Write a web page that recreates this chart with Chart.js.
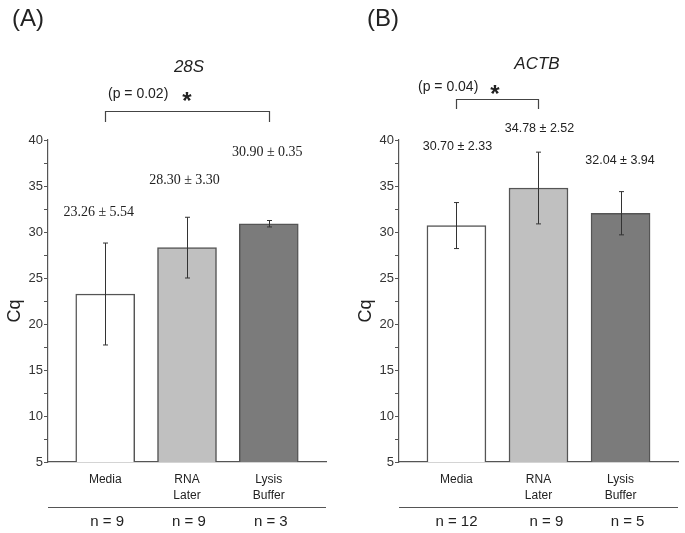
<!DOCTYPE html>
<html>
<head>
<meta charset="utf-8">
<script src="https://cdn.jsdelivr.net/npm/chart.js@4.4.0/dist/chart.umd.min.js"></script>
<style>
  html, body { margin: 0; padding: 0; background: #fff; }
  #wrap { position: relative; width: 685px; height: 533px; }
  canvas { position: absolute; top: 0; }
</style>
</head>
<body>
<div id="wrap">
  <canvas id="cA" width="342" height="533" style="left:0"></canvas>
  <canvas id="cB" width="343" height="533" style="left:342px"></canvas>
</div>
<script>
// Data
const groups = ['Media', 'RNA Later', 'Lysis Buffer'];
const tickLabels = [['Media'], ['RNA', 'Later'], ['Lysis', 'Buffer']];
const barColors = ['#ffffff', '#c0c0c0', '#7b7b7b'];

const cq28S = [23.26, 28.30, 30.90];
const err28S = [5.54, 3.30, 0.35];
const text28S = ['23.26 \u00b1 5.54', '28.30 \u00b1 3.30', '30.90 \u00b1 0.35'];
const n28S = [9, 9, 3];

const cqACTB = [30.70, 34.78, 32.04];
const errACTB = [2.5, 3.9, 2.35];   // error bar lengths as drawn
const textACTB = ['30.70 \u00b1 2.33', '34.78 \u00b1 2.52', '32.04 \u00b1 3.94'];
const nACTB = [12, 9, 5];

const yMin = 5, yMax = 40, yStep = 2.5;

const SANS = '"Liberation Sans", Arial, sans-serif';
const SERIF = '"Liberation Serif", "Times New Roman", serif';
const AXIS = '#555';
const INK = '#222';

// draws error bars, bracket and all the text around one panel
const panelDecor = {
    id: 'panelDecor',
    afterDatasetsDraw(chart, args, o) {
        const ctx = chart.ctx;
        const xs = chart.scales.x, ys = chart.scales.y;
        ctx.save();
        ctx.strokeStyle = '#333';
        ctx.lineWidth = 1;
        o.values.forEach((v, i) => {
            const x = Math.round(xs.getPixelForValue(i + 1)) + 0.5;
            const t = ys.getPixelForValue(v + o.errors[i]);
            const b = ys.getPixelForValue(v - o.errors[i]);
            ctx.beginPath();
            ctx.moveTo(x, t); ctx.lineTo(x, b);
            ctx.moveTo(x - 2.5, t); ctx.lineTo(x + 2.5, t);
            ctx.moveTo(x - 2.5, b); ctx.lineTo(x + 2.5, b);
            ctx.stroke();
        });
        ctx.restore();
    },
    afterDraw(chart, args, o) {
        const ctx = chart.ctx;
        const xs = chart.scales.x;
        const area = chart.chartArea;
        ctx.save();
        ctx.fillStyle = INK;
        ctx.textBaseline = 'middle';

        // panel letter
        ctx.font = '24px ' + SANS;
        ctx.textAlign = 'left';
        ctx.fillText(o.letter, o.letterX, 19);

        // gene name
        ctx.font = 'italic 17px ' + SANS;
        ctx.textAlign = 'center';
        ctx.fillText(o.gene, o.geneX, o.geneY);

        // p value + star
        ctx.font = '14px ' + SANS;
        ctx.textAlign = 'left';
        ctx.fillText(o.pText, o.pX, o.pY);
        ctx.font = 'bold 24px ' + SANS;
        ctx.textAlign = 'center';
        ctx.textBaseline = 'alphabetic';
        ctx.fillText('*', o.starX, o.pY + 15);
        ctx.textBaseline = 'middle';

        // bracket
        const bx1 = Math.round(xs.getPixelForValue(o.bracket[0])) + 0.5;
        const bx2 = Math.round(xs.getPixelForValue(o.bracket[1])) + 0.5;
        ctx.strokeStyle = '#444';
        ctx.lineWidth = 1.2;
        ctx.beginPath();
        ctx.moveTo(bx1, o.bracketBottom);
        ctx.lineTo(bx1, o.bracketTop);
        ctx.lineTo(bx2, o.bracketTop);
        ctx.lineTo(bx2, o.bracketBottom);
        ctx.stroke();

        // mean +- sd labels
        ctx.font = o.labelFont;
        ctx.textAlign = 'center';
        o.labels.forEach((s, i) => {
            ctx.fillText(s, xs.getPixelForValue(i + 1) + o.labelDx[i], o.labelY[i]);
        });

        // y title
        ctx.save();
        ctx.translate(o.cqX, 311);
        ctx.rotate(-Math.PI / 2);
        ctx.font = '18px ' + SANS;
        ctx.fillText('Cq', 0, 0);
        ctx.restore();

        // separator and sample sizes
        ctx.strokeStyle = AXIS;
        ctx.lineWidth = 1.2;
        ctx.beginPath();
        ctx.moveTo(area.left, 507.5);
        ctx.lineTo(area.right, 507.5);
        ctx.stroke();
        ctx.font = '15px ' + SANS;
        o.counts.forEach((n, i) => {
            ctx.fillText('n = ' + n, xs.getPixelForValue(i + 1) + o.countDx[i], 522);
        });
        ctx.restore();
    }
};

function makePanel(canvasId, values, decor, yAxisWidth, rightPad) {
    return new Chart(document.getElementById(canvasId), {
        type: 'bar',
        data: {
            datasets: [{
                data: values.map((v, i) => ({ x: i + 1, y: v })),
                backgroundColor: barColors,
                borderColor: AXIS,
                borderWidth: 1.5,
                barThickness: 59
            }]
        },
        options: {
            responsive: false,
            devicePixelRatio: 1,
            animation: false,
            layout: { padding: { left: 0, top: 140, right: rightPad, bottom: 31 } },
            plugins: {
                legend: { display: false },
                tooltip: { enabled: false },
                panelDecor: decor
            },
            scales: {
                x: {
                    type: 'linear',
                    offset: false,
                    min: 0.3,
                    max: 3.7,
                    afterBuildTicks: axis => { axis.ticks = groups.map((g, i) => ({ value: i + 1 })); },
                    afterFit: axis => { axis.height = 40; },
                    grid: { display: true, drawOnChartArea: false, drawTicks: false },
                    border: { display: true, color: AXIS, width: 1.2 },
                    ticks: {
                        padding: 10,
                        color: INK,
                        font: { family: SANS, size: 12, lineHeight: 1.3 },
                        callback: v => tickLabels[v - 1]
                    }
                },
                y: {
                    min: yMin,
                    max: yMax,
                    afterFit: axis => { axis.width = yAxisWidth; },
                    grid: { display: true, drawOnChartArea: false, drawTicks: true, tickLength: 4, color: AXIS },
                    border: { display: true, color: AXIS, width: 1.2 },
                    ticks: {
                        stepSize: yStep,
                        padding: 1,
                        color: '#333',
                        font: { family: SANS, size: 13 },
                        callback: v => (v % 5 === 0 ? v : '')
                    }
                }
            }
        },
        plugins: [panelDecor]
    });
}

makePanel('cA', cq28S, {
    values: cq28S, errors: err28S,
    letter: '(A)', letterX: 12,
    gene: '28S', geneX: 189, geneY: 67,
    pText: '(p = 0.02)', pX: 108, pY: 94, starX: 187,
    bracket: [1, 3], bracketTop: 111.5, bracketBottom: 122,
    labels: text28S, labelFont: '14px ' + SERIF,
    labelDx: [-6.5, -2.5, -1.5], labelY: [212, 180, 152],
    cqX: 15,
    counts: n28S, countDx: [2, 2, 2]
}, 48, 16);

makePanel('cB', cqACTB, {
    values: cqACTB, errors: errACTB,
    letter: '(B)', letterX: 25,
    gene: 'ACTB', geneX: 195, geneY: 64,
    pText: '(p = 0.04)', pX: 76, pY: 87, starX: 153,
    bracket: [1, 2], bracketTop: 99.5, bracketBottom: 109,
    labels: textACTB, labelFont: '12.5px ' + SANS,
    labelDx: [1, 1, -0.5], labelY: [147, 129, 161],
    cqX: 24,
    counts: nACTB, countDx: [0, 8, 7]
}, 57, 7);
</script>
</body>
</html>
